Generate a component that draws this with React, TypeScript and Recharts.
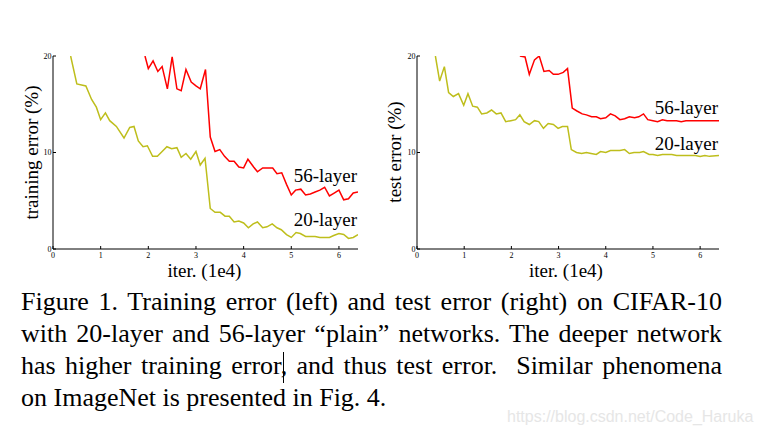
import { LineChart, Line, XAxis, YAxis } from 'recharts';

// iterations (1e4) and error (%)
const trainIter20 = [0.37, 0.5, 0.69, 0.81, 0.91, 1.0, 1.1, 1.19, 1.33, 1.49, 1.61, 1.7, 1.79, 1.89, 1.98, 2.09, 2.19, 2.29, 2.39, 2.49, 2.6, 2.69, 2.79, 2.89, 3.0, 3.09, 3.19, 3.3, 3.4, 3.51, 3.61, 3.7, 3.8, 3.9, 4.0, 4.1, 4.2, 4.29, 4.4, 4.49, 4.6, 4.7, 4.79, 4.9, 5.0, 5.1, 5.19, 5.3, 5.4, 5.5, 5.6, 5.7, 5.8, 5.89, 6.0, 6.1, 6.2, 6.3, 6.4];
const trainErr20 = [20, 17.1, 16.9, 15.5, 14.7, 13.4, 14.1, 13.3, 12.7, 11.5, 12.6, 12.7, 11.2, 10.6, 10.7, 9.6, 9.6, 10.1, 10.6, 10.4, 10.5, 9.5, 9.9, 9.3, 10.1, 8.7, 9.4, 4.2, 3.8, 3.8, 3.4, 3.4, 2.8, 2.9, 2.7, 2.2, 2.6, 2.8, 2.2, 2.3, 2.6, 2.2, 2.0, 1.5, 1.2, 1.7, 1.6, 1.3, 1.3, 1.3, 1.2, 1.2, 1.2, 1.4, 1.6, 1.5, 1.1, 1.2, 1.5];

const trainIter56 = [1.93, 2.0, 2.1, 2.2, 2.29, 2.4, 2.5, 2.6, 2.69, 2.79, 2.9, 3.0, 3.09, 3.2, 3.3, 3.4, 3.5, 3.6, 3.7, 3.8, 3.9, 4.0, 4.09, 4.21, 4.29, 4.4, 4.51, 4.61, 4.7, 4.8, 4.9, 5.0, 5.09, 5.2, 5.3, 5.4, 5.5, 5.6, 5.7, 5.8, 5.9, 6.0, 6.1, 6.2, 6.3, 6.4];
const trainErr56 = [20, 18.7, 19.5, 18.4, 18.9, 16.6, 19.9, 16.6, 16.4, 18.6, 17.3, 16.9, 16.6, 18.6, 11.6, 10.1, 10.3, 9.6, 9.1, 9.1, 8.5, 8.4, 9.3, 8.5, 8.0, 8.4, 8.4, 8.4, 7.8, 7.9, 6.7, 5.6, 6.1, 6.2, 5.6, 5.7, 5.9, 6.1, 6.4, 5.5, 5.8, 6.1, 5.1, 5.2, 5.8, 5.9];

const testIter20 = [0.39, 0.48, 0.58, 0.67, 0.77, 0.88, 0.99, 1.08, 1.18, 1.28, 1.37, 1.48, 1.58, 1.68, 1.78, 1.88, 1.99, 2.09, 2.18, 2.27, 2.38, 2.49, 2.58, 2.68, 2.78, 2.89, 2.99, 3.08, 3.19, 3.27, 3.38, 3.49, 3.59, 3.69, 3.8, 3.89, 4.0, 4.1, 4.21, 4.3, 4.4, 4.5, 4.6, 4.72, 4.8, 4.92, 5.0, 5.1, 5.2, 5.3, 5.4, 5.5, 5.6, 5.7, 5.8, 5.9, 6.0, 6.1, 6.2, 6.4];
const testErr20 = [20, 17.4, 18.9, 16.2, 15.8, 16.1, 14.9, 16.1, 14.8, 14.7, 14.0, 14.1, 14.4, 14.0, 14.1, 13.2, 13.3, 13.4, 13.9, 13.2, 12.9, 13.3, 13.2, 12.5, 13.0, 12.9, 12.5, 12.7, 12.7, 10.3, 10.0, 9.9, 10.0, 9.9, 9.8, 10.1, 10.0, 10.2, 10.2, 10.2, 10.3, 9.9, 10.0, 10.0, 10.1, 9.8, 9.8, 9.7, 9.8, 9.8, 9.8, 9.7, 9.7, 9.7, 9.7, 9.7, 9.6, 9.7, 9.6, 9.7];

const testIter56 = [2.18, 2.29, 2.38, 2.49, 2.59, 2.69, 2.8, 2.89, 2.99, 3.1, 3.19, 3.29, 3.39, 3.5, 3.59, 3.7, 3.8, 3.89, 4.0, 4.1, 4.2, 4.3, 4.4, 4.5, 4.61, 4.7, 4.8, 4.89, 5.0, 5.1, 5.2, 5.3, 5.4, 5.5, 5.6, 5.7, 5.8, 5.9, 6.0, 6.1, 6.2, 6.4];
const testErr56 = [20, 19.9, 18.1, 19.6, 20, 18.4, 18.5, 18.1, 18.1, 18.3, 18.7, 14.6, 14.3, 14.0, 13.9, 13.7, 13.7, 13.5, 13.6, 14.0, 13.8, 13.4, 13.5, 13.7, 13.6, 13.7, 14.0, 13.4, 13.3, 13.2, 13.4, 13.3, 13.3, 13.3, 13.2, 13.3, 13.3, 13.3, 13.3, 13.3, 13.3, 13.3];

const xTicks = [0, 1, 2, 3, 4, 5, 6];
const yTicks = [0, 10, 20];

const captionLines = [
  'Figure 1. Training error (left) and test error (right) on CIFAR-10',
  'with 20-layer and 56-layer \u201cplain\u201d networks. The deeper network',
  'has higher training error, and thus test error.\u00a0 Similar phenomena',
  'on ImageNet is presented in Fig. 4.',
];

const RED = '#ff0000';
const OLIVE = '#bebe1c';
const SERIF = '"Liberation Serif", "Times New Roman", serif';

const toPoints = (xs: number[], ys: number[]) => xs.map((x, i) => ({ x, y: ys[i] }));

const XTick = (props: any) => {
  const { x, y, payload } = props;
  return (
    <g>
      <line x1={x} y1={y} x2={x} y2={y - 3} stroke="#000" strokeWidth={1} />
      <text x={x} y={y + 9} textAnchor="middle" fontSize={8} fontFamily={SERIF} fill="#000">
        {payload.value}
      </text>
    </g>
  );
};

const YTick = (props: any) => {
  const { x, y, payload } = props;
  return (
    <g>
      <line x1={x} y1={y} x2={x + 3} y2={y} stroke="#000" strokeWidth={1} />
      <text x={x - 1.5} y={y + 2.5} textAnchor="end" fontSize={8} fontFamily={SERIF} fill="#000">
        {payload.value}
      </text>
    </g>
  );
};

function Panel({
  left,
  marginLeft,
  marginRight,
  deep,
  plain,
}: {
  left: number;
  marginLeft: number;
  marginRight: number;
  deep: { x: number; y: number }[];
  plain: { x: number; y: number }[];
}) {
  return (
    <div style={{ position: 'absolute', left, top: 40 }}>
      <LineChart
        width={370}
        height={245}
        margin={{ top: 16, right: marginRight, bottom: 16, left: marginLeft - 20 }}
      >
        <XAxis
          dataKey="x"
          type="number"
          domain={[0, 6.4]}
          ticks={xTicks}
          interval={0}
          allowDataOverflow
          height={20}
          tickSize={0}
          tickMargin={0}
          tickLine={false}
          axisLine={{ stroke: '#000', strokeWidth: 1 }}
          tick={XTick}
        />
        <YAxis
          type="number"
          domain={[0, 20]}
          ticks={yTicks}
          interval={0}
          allowDataOverflow
          width={20}
          tickSize={0}
          tickMargin={0}
          tickLine={false}
          axisLine={{ stroke: '#000', strokeWidth: 1 }}
          tick={YTick}
        />
        <Line
          data={plain}
          dataKey="y"
          type="linear"
          stroke={OLIVE}
          strokeWidth={1.5}
          dot={false}
          isAnimationActive={false}
        />
        <Line
          data={deep}
          dataKey="y"
          type="linear"
          stroke={RED}
          strokeWidth={1.5}
          dot={false}
          isAnimationActive={false}
        />
      </LineChart>
    </div>
  );
}

export default function App() {
  return (
    <div
      style={{
        position: 'absolute',
        left: 0,
        top: 0,
        width: 761,
        height: 434,
        background: '#fff',
        overflow: 'hidden',
      }}
    >
      <Panel
        left={0}
        marginLeft={53}
        marginRight={12}
        plain={toPoints(trainIter20, trainErr20)}
        deep={toPoints(trainIter56, trainErr56)}
      />
      <Panel
        left={370}
        marginLeft={47}
        marginRight={21}
        plain={toPoints(testIter20, testErr20)}
        deep={toPoints(testIter56, testErr56)}
      />

      <svg
        width={761}
        height={434}
        style={{ position: 'absolute', left: 0, top: 0, pointerEvents: 'none' }}
        fontFamily={SERIF}
        fill="#000"
      >
        <text x={37.5} y={152.5} fontSize={19} textAnchor="middle" transform="rotate(-90 37.5 152.5)">
          training error (%)
        </text>
        <text x={400.5} y={152} fontSize={19} textAnchor="middle" transform="rotate(-90 400.5 152)">
          test error (%)
        </text>
        <text x={204.5} y={277} fontSize={19} textAnchor="middle">iter. (1e4)</text>
        <text x={566} y={277} fontSize={19} textAnchor="middle">iter. (1e4)</text>
        <text x={357} y={182} fontSize={19} textAnchor="end">56-layer</text>
        <text x={357} y={226} fontSize={19} textAnchor="end">20-layer</text>
        <text x={718} y={113.5} fontSize={19} textAnchor="end">56-layer</text>
        <text x={718} y={150} fontSize={19} textAnchor="end">20-layer</text>
        <text
          x={507}
          y={421.5}
          fontSize={16}
          fontFamily='"Liberation Sans", Arial, sans-serif'
          fill="#e6e6e6"
        >
          https://blog.csdn.net/Code_Haruka
        </text>
      </svg>

      <div
        style={{
          position: 'absolute',
          left: 21,
          top: 286,
          width: 701,
          fontFamily: SERIF,
          fontSize: 26,
          lineHeight: '32px',
          color: '#000',
        }}
      >
        {captionLines.map((line, i) => (
          <div
            key={i}
            style={{
              textAlign: i < captionLines.length - 1 ? 'justify' : 'left',
              textAlignLast: i < captionLines.length - 1 ? 'justify' : 'left',
            }}
          >
            {line}
          </div>
        ))}
      </div>
      <div
        style={{ position: 'absolute', left: 283, top: 352, width: 1, height: 31, background: '#000' }}
      />
    </div>
  );
}
